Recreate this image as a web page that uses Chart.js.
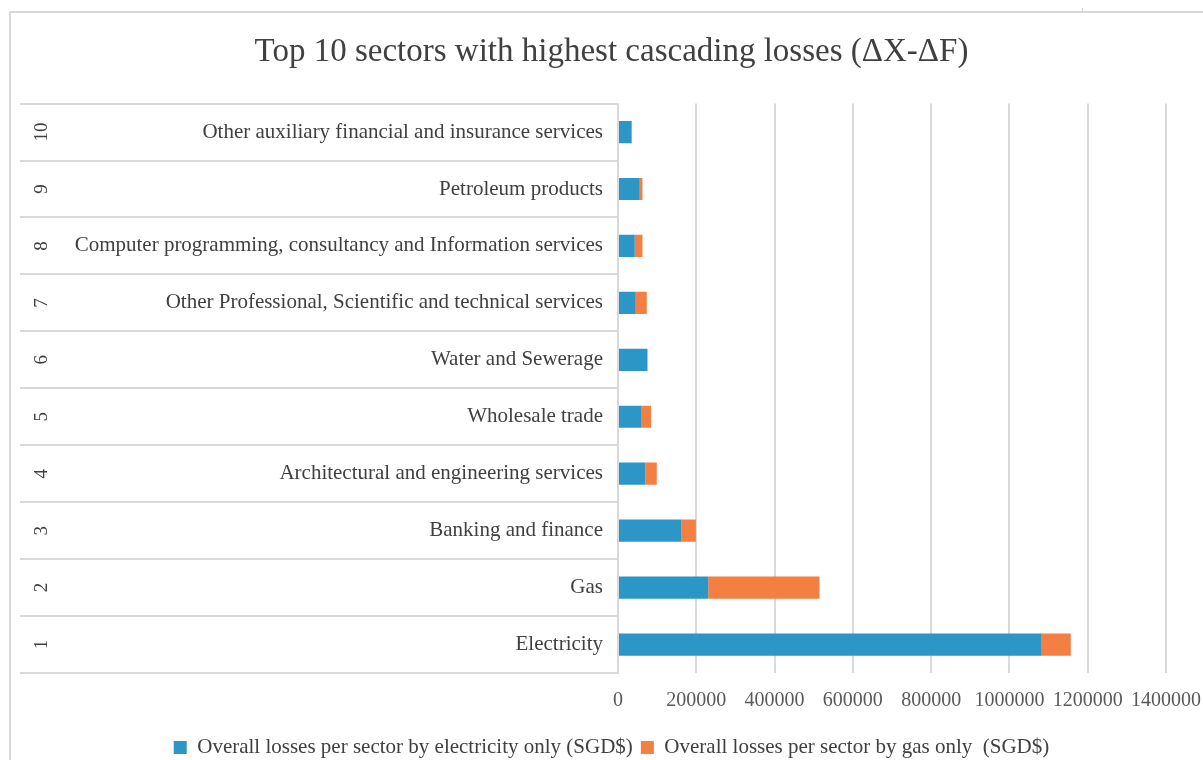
<!DOCTYPE html>
<html>
<head>
<meta charset="utf-8">
<script src="https://cdn.jsdelivr.net/npm/chart.js@4.4.0/dist/chart.umd.min.js"></script>
<style>
  html, body { margin: 0; padding: 0; background: #fff; }
  #wrap { position: relative; width: 1203px; height: 760px; overflow: hidden; }
  #frame { position: absolute; left: 9px; top: 11px; right: -4px; bottom: -4px;
           border-left: 2px solid #d9d9d9; border-top: 2px solid #d9d9d9; }
  #mark { position: absolute; left: 1082px; top: 8px; width: 1px; height: 4px; background: #cfcfcf; }
  canvas { position: absolute; left: 0; top: 0; }
</style>
</head>
<body>
<div id="wrap">
  <div id="frame"></div>
  <div id="mark"></div>
  <canvas id="mainChart" width="1203" height="768"></canvas>
</div>
<script>
// rank 1 = highest total loss, drawn at the bottom
const ranks = ['1', '2', '3', '4', '5', '6', '7', '8', '9', '10'];
const sectors = [
    'Electricity',
    'Gas',
    'Banking and finance',
    'Architectural and engineering services',
    'Wholesale trade',
    'Water and Sewerage',
    'Other Professional, Scientific and technical services',
    'Computer programming, consultancy and Information services',
    'Petroleum products',
    'Other auxiliary financial and insurance services'
];
const electricityLoss = [1082500, 230500, 162400, 70200, 58900, 74300, 45300, 42800, 55600, 34300];
const gasLoss = [74300, 284300, 36600, 28900, 25600, 1500, 28200, 19700, 6900, 1500];

const xMax = 1400000;
const xStep = 200000;

const seriesNames = [
    'Overall losses per sector by electricity only (SGD$)',
    'Overall losses per sector by gas only  (SGD$)'
];

const lineGrey = '#d9d9d9';
const textGrey = '#404040';

Chart.defaults.font.family = "'Liberation Serif', 'Times New Roman', serif";
Chart.defaults.color = textGrey;

// separators between the category rows, across both label columns
const categoryDividers = {
    id: 'categoryDividers',
    afterDraw(chart) {
        const y = chart.scales.y;
        const rank = chart.scales.rank;
        const ctx = chart.ctx;
        ctx.save();
        ctx.strokeStyle = lineGrey;
        ctx.lineWidth = 2;
        ctx.beginPath();
        for (let i = 0; i <= sectors.length; i++) {
            const py = Math.round(y.getPixelForValue(i - 0.5));
            ctx.moveTo(rank.left, py);
            ctx.lineTo(chart.chartArea.left, py);
        }
        ctx.stroke();
        ctx.restore();
    }
};

const ctx = document.getElementById('mainChart');

new Chart(ctx, {
    type: 'bar',
    data: {
        labels: sectors,
        datasets: [{
            label: seriesNames[0],
            data: electricityLoss,
            backgroundColor: '#2c96c7',
            categoryPercentage: 1,
            barPercentage: 0.39
        }, {
            label: seriesNames[1],
            data: gasLoss,
            backgroundColor: '#f47f43',
            categoryPercentage: 1,
            barPercentage: 0.39
        }]
    },
    options: {
        indexAxis: 'y',
        responsive: false,
        animation: false,
        layout: {
            padding: { left: 20, right: 0, top: 14, bottom: 0 }
        },
        plugins: {
            title: {
                display: true,
                text: 'Top 10 sectors with highest cascading losses (\u0394X-\u0394F)',
                color: textGrey,
                font: { size: 33, weight: 'normal' },
                padding: { top: 19, bottom: 31 }
            },
            legend: {
                display: true,
                position: 'bottom',
                labels: {
                    boxWidth: 13,
                    boxHeight: 13,
                    color: textGrey,
                    font: { size: 21 },
                    padding: 8
                }
            },
            tooltip: { enabled: false }
        },
        scales: {
            x: {
                stacked: true,
                min: 0,
                max: xMax,
                ticks: {
                    stepSize: xStep,
                    color: '#595959',
                    font: { size: 20 },
                    padding: 16,
                    callback: (v) => String(v)
                },
                grid: { color: lineGrey, lineWidth: 2, drawTicks: false },
                border: { display: false },
                afterFit: (scale) => {
                    scale.paddingRight = 37;
                }
            },
            y: {
                type: 'category',
                stacked: true,
                reverse: true,
                position: 'left',
                weight: 0,
                offset: true,
                ticks: {
                    color: textGrey,
                    font: { size: 21 },
                    padding: 15
                },
                grid: { display: false, drawTicks: false },
                border: { display: true, color: lineGrey, width: 2 },
                afterFit: (scale) => { scale.width = 558; }
            },
            rank: {
                type: 'category',
                labels: ranks,
                reverse: true,
                position: 'left',
                weight: 1,
                offset: true,
                ticks: {
                    color: textGrey,
                    font: { size: 19 },
                    minRotation: 90,
                    maxRotation: 90,
                    crossAlign: 'center',
                    padding: 8
                },
                grid: { display: false, drawTicks: false },
                border: { display: false },
                afterFit: (scale) => { scale.width = 40; }
            }
        }
    },
    plugins: [categoryDividers]
});
</script>
</body>
</html>
